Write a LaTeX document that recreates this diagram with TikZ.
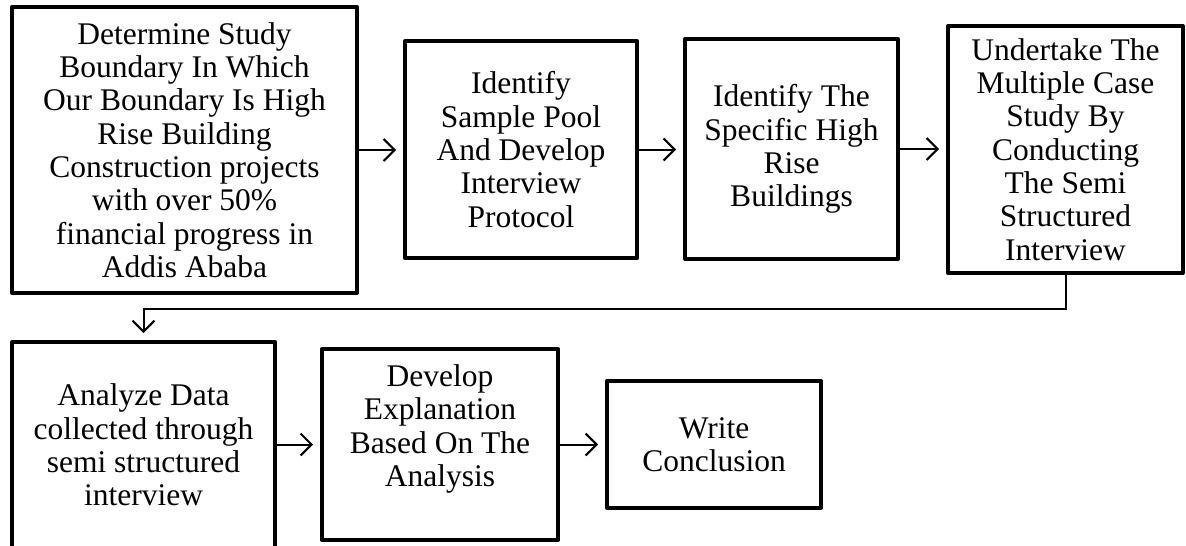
\documentclass[tikz,border=0pt]{standalone}
\usepackage{fontspec}
\setmainfont{Liberation Serif}
\usetikzlibrary{arrows.meta}
\tikzset{
  box/.style={draw=black, line width=4pt, line join=round, fill=white, inner sep=0pt,
    align=center, font=\fontsize{31.5}{33.3}\selectfont},
  txt/.style={inner sep=0pt, align=center, font=\fontsize{31.5}{33.3}\selectfont},
  arr/.style={line width=2pt, -{Straight Barb[length=11pt,width=22pt,line width=2pt]}, shorten >=7pt},
}
\begin{document}
\begin{tikzpicture}[x=1pt,y=-1pt]
\useasboundingbox (0,0) rectangle (1186,546);
\node[box, minimum width=345pt, minimum height=286pt] (b1) at (184.5,150)
  {Determine Study\\Boundary In Which\\Our Boundary Is High\\Rise Building\\Construction projects\\with over 50\%\\financial progress in\\Addis Ababa};
\node[box, minimum width=232pt, minimum height=217pt] (b2) at (521,149.5)
  {Identify\\Sample Pool\\And Develop\\Interview\\Protocol};
\node[box, minimum width=213pt, minimum height=220pt] (b3) at (791.5,149)
  {Identify The\\Specific High\\Rise\\Buildings};
\node[box, minimum width=235pt, minimum height=247pt] (b4) at (1065.5,149.5)
  {Undertake The\\Multiple Case\\Study By\\Conducting\\The Semi\\Structured\\Interview};
\node[box, minimum width=263pt, minimum height=206pt] (b5) at (143.5,445)
  {Analyze Data\\collected through\\semi structured\\interview};
\node[box, minimum width=236pt, minimum height=191pt] (b6) at (440,444.5) {};
\node[txt] (b6t) at (440,429) {Develop\\Explanation\\Based On The\\Analysis};
\node[box, minimum width=214pt, minimum height=127pt] (b7) at (714,444.5)
  {Write\\Conclusion};
\draw[arr] (b1.east) -- (b1.east -| b2.west);
\draw[arr] (b2.east) -- (b2.east -| b3.west);
\draw[arr] (b3.east) -- (b3.east -| b4.west);
\draw[arr] (b4.south) -- ++(0,34) -| (b5.north);
\draw[arr] (b5.east |- b6.west) -- (b6.west);
\draw[arr] (b6.east) -- (b7.west);
\end{tikzpicture}
\end{document}
